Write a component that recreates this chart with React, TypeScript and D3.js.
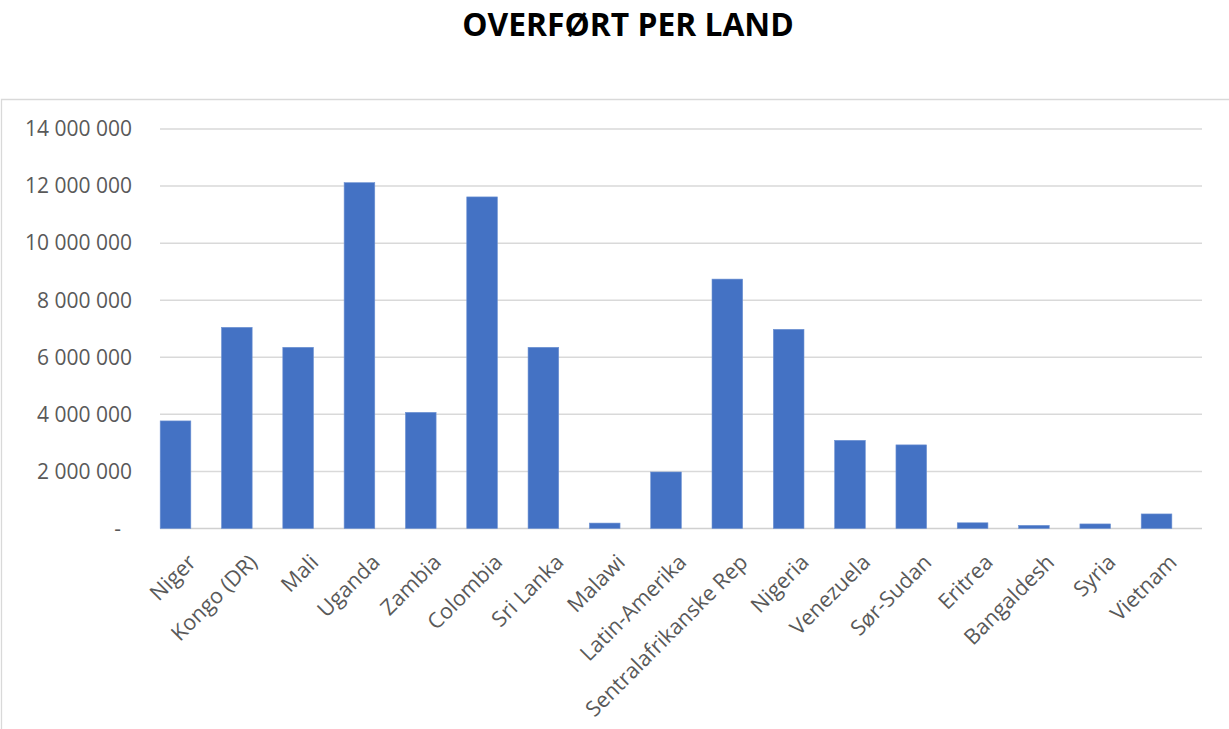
import React from "react";
import * as d3 from "d3";

const title = "OVERFØRT PER LAND";
const categories = [
  "Niger", "Kongo (DR)", "Mali", "Uganda", "Zambia", "Colombia", "Sri Lanka", "Malawi",
  "Latin-Amerika", "Sentralafrikanske Rep", "Nigeria", "Venezuela", "Sør-Sudan",
  "Eritrea", "Bangaldesh", "Syria", "Vietnam",
];
const values = [
  3770000, 7050000, 6350000, 12120000, 4070000, 11620000, 6350000, 190000,
  1980000, 8740000, 6980000, 3090000, 2930000, 200000, 110000, 160000, 510000,
];
const yTicks = [0, 2000000, 4000000, 6000000, 8000000, 10000000, 12000000, 14000000];

const fmt = (v: number) =>
  v === 0 ? "-" : d3.format(",")(v).replace(/,/g, " ");

export default function App() {
  const W = 1229, H = 729;
  const x = d3.scaleBand<string>().domain(categories).range([144.85, 1187.2]).paddingInner(0.5).paddingOuter(0.25);
  const y = d3.scaleLinear().domain([0, 14000000]).range([528.5, 129]);
  const gridX0 = 160, gridX1 = 1202;
  const font = "'Open Sans', sans-serif";
  return (
    <svg width={W} height={H} style={{ position: "absolute", left: 0, top: 0, background: "#fff" }}>
      <rect x={0} y={0} width={W} height={H} fill="#fff" />
      <text x={628} y={35.5} textAnchor="middle" fontFamily={font} fontWeight={700} fontSize={31.8} fill="#000">
        {title}
      </text>
      <path d={`M1.5,${H + 5} V99.5 H${W + 5}`} fill="none" stroke="#d9d9d9" strokeWidth={1.3} />
      {yTicks.map((t) => (
        <g key={t}>
          <line x1={gridX0} x2={gridX1} y1={y(t)} y2={y(t)} stroke={t === 0 ? "#d0d0d0" : "#d9d9d9"} strokeWidth={1.5} />
          <text
            x={t === 0 ? 121 : 132}
            y={y(t)}
            dy="0.35em"
            textAnchor="end"
            fontFamily={font}
            fontSize={21}
            fill="#595959"
          >
            {fmt(t)}
          </text>
        </g>
      ))}
      {categories.map((c, i) => (
        <rect
          key={c}
          x={x(c)!}
          y={y(values[i])}
          width={x.bandwidth()}
          height={y(0) - y(values[i])}
          fill="#4472c4"
          stroke="#6f93d3"
          strokeWidth={0.6}
        />
      ))}
      {categories.map((c) => {
        const cx = x(c)! + x.bandwidth() / 2;
        return (
          <text
            key={c}
            transform={`translate(${cx + 11},${553}) rotate(-45)`}
            textAnchor="end"
            dy="0.7em"
            fontFamily={font}
            fontSize={21.5}
            fill="#595959"
          >
            {c}
          </text>
        );
      })}
    </svg>
  );
}
